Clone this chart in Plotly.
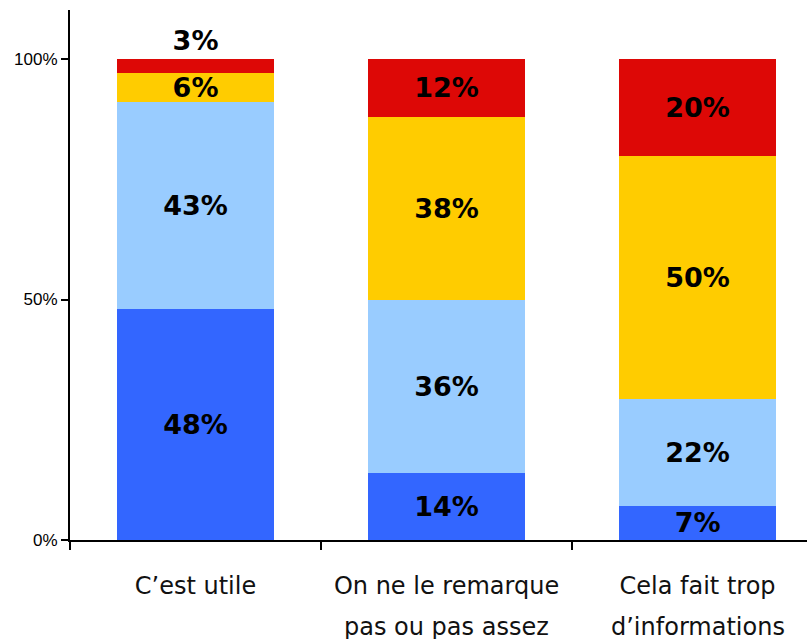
import plotly.graph_objects as go

# Categories (line breaks mark where the axis label wraps)
categories = [
    "C’est utile",
    "On ne le remarque\npas ou pas assez",
    "Cela fait trop\nd’informations",
]

# Stacked shares per category, bottom to top
serie_1 = [48, 14, 7]
serie_2 = [43, 36, 22]
serie_3 = [6, 38, 50]
serie_4 = [3, 12, 20]

series_names = ["Série 1", "Série 2", "Série 3", "Série 4"]
series_values = [serie_1, serie_2, serie_3, serie_4]
series_colors = ["#3366FF", "#99CCFF", "#FFCC00", "#DD0806"]

y_tick_vals = [0, 50, 100]
y_tick_text = ["0%", "50%", "100%"]

x_keys = [c.replace("\n", " ") for c in categories]
line1 = [c.split("\n")[0] for c in categories]
line2 = [c.split("\n")[1] if "\n" in c else "" for c in categories]

label_font = dict(family="DejaVu Sans", size=27, color="black", weight="bold")
cat_font = dict(family="DejaVu Sans", size=24, color="#111111")

fig = go.Figure()
for i, (name, vals, col) in enumerate(zip(series_names, series_values, series_colors)):
    is_top = i == len(series_values) - 1
    positions = ["inside"] * len(vals)
    if is_top:
        # the thin top slice carries its label just above the bar
        positions = ["outside" if v < 5 else "inside" for v in vals]
    fig.add_trace(go.Bar(
        name=name,
        x=x_keys,
        y=vals,
        marker=dict(color=col, line=dict(width=0)),
        width=0.625,
        text=[f"{v}%" for v in vals],
        textposition=positions,
        insidetextanchor="middle",
        textangle=0,
        constraintext="none",
        textfont=label_font,
        insidetextfont=label_font,
        outsidetextfont=label_font,
        cliponaxis=False,
        hoverinfo="skip",
    ))

# second line of the wrapped category labels
for key, txt in zip(x_keys, line2):
    if txt:
        fig.add_annotation(
            x=key, xref="x", y=0, yref="paper",
            text=txt, showarrow=False,
            xanchor="center", yanchor="middle", yshift=-87,
            font=cat_font,
        )

fig.update_layout(
    width=807,
    height=639,
    margin=dict(l=70, r=0, t=10, b=99),
    barmode="stack",
    barnorm="percent",
    showlegend=False,
    plot_bgcolor="white",
    paper_bgcolor="white",
    xaxis=dict(
        type="category",
        range=[-0.5, 2.436],
        tickmode="array",
        tickvals=x_keys,
        ticktext=line1,
        tickson="boundaries",
        ticks="outside",
        ticklen=8,
        tickwidth=2,
        tickcolor="black",
        showline=True,
        linecolor="black",
        linewidth=2,
        showgrid=False,
        zeroline=False,
        ticklabelstandoff=23,
        tickfont=cat_font,
    ),
    yaxis=dict(
        range=[0, 110.19],
        tickmode="array",
        tickvals=y_tick_vals,
        ticktext=y_tick_text,
        ticks="outside",
        ticklen=7,
        tickwidth=2,
        tickcolor="black",
        showline=True,
        linecolor="black",
        linewidth=2,
        showgrid=False,
        zeroline=False,
        tickfont=dict(family="Liberation Sans", size=17, color="black"),
    ),
)

fig.write_html("out.html")
